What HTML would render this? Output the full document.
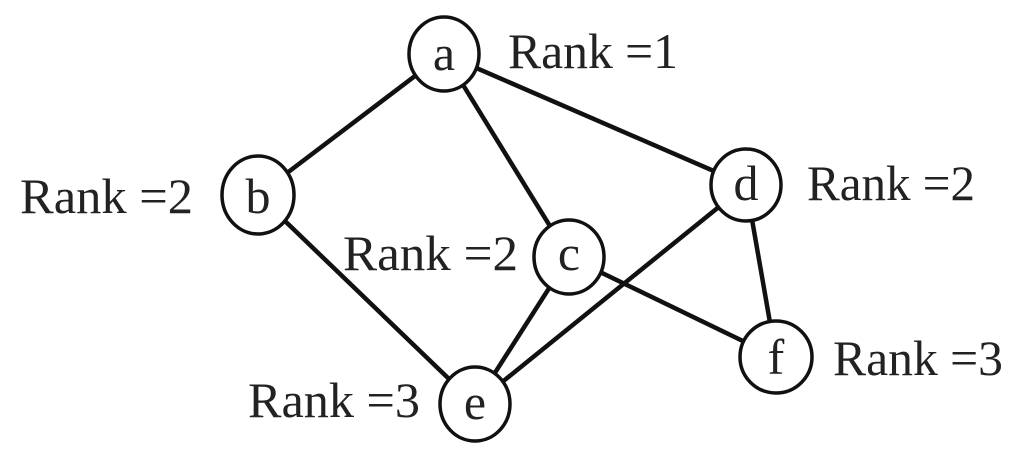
<!DOCTYPE html>
<html><head><meta charset="utf-8"><style>
html,body{margin:0;padding:0;background:#fff;}
svg{display:block;}
text{font-family:"Liberation Serif",serif;font-size:50px;fill:#222;}
</style></head><body>
<svg width="1024" height="461" viewBox="0 0 1024 461" xmlns="http://www.w3.org/2000/svg">
<g stroke="#111" stroke-width="4.5" fill="none">
<line x1="444" y1="54" x2="258" y2="195"/>
<line x1="444" y1="54" x2="569" y2="257"/>
<line x1="444" y1="54" x2="746" y2="185"/>
<line x1="258" y1="195" x2="475" y2="404"/>
<line x1="569" y1="257" x2="475" y2="404"/>
<line x1="569" y1="257" x2="776" y2="357"/>
<line x1="746" y1="185" x2="475" y2="404"/>
<line x1="746" y1="185" x2="776" y2="357"/>
</g>
<g stroke="#111" stroke-width="3.5" fill="#fff">
<ellipse cx="444" cy="54" rx="35" ry="37"/>
<ellipse cx="258" cy="195" rx="36" ry="39"/>
<ellipse cx="569" cy="257" rx="35" ry="37"/>
<ellipse cx="746" cy="185" rx="35" ry="36"/>
<ellipse cx="475" cy="404" rx="35" ry="37"/>
<ellipse cx="776" cy="357" rx="36" ry="36"/>
</g>
<g text-anchor="middle">
<text x="444" y="70">a</text>
<text x="258" y="213">b</text>
<text x="569" y="270">c</text>
<text x="746" y="200">d</text>
<text x="475" y="419">e</text>
<text x="776" y="374">f</text>
</g>
<text x="508" y="68" textLength="170" lengthAdjust="spacingAndGlyphs">Rank =1</text>
<text x="20" y="213" textLength="173" lengthAdjust="spacingAndGlyphs">Rank =2</text>
<text x="343" y="270" textLength="175" lengthAdjust="spacingAndGlyphs">Rank =2</text>
<text x="807" y="200" textLength="168" lengthAdjust="spacingAndGlyphs">Rank =2</text>
<text x="833" y="375" textLength="170" lengthAdjust="spacingAndGlyphs">Rank =3</text>
<text x="248" y="417" textLength="172" lengthAdjust="spacingAndGlyphs">Rank =3</text>
</svg>
</body></html>
